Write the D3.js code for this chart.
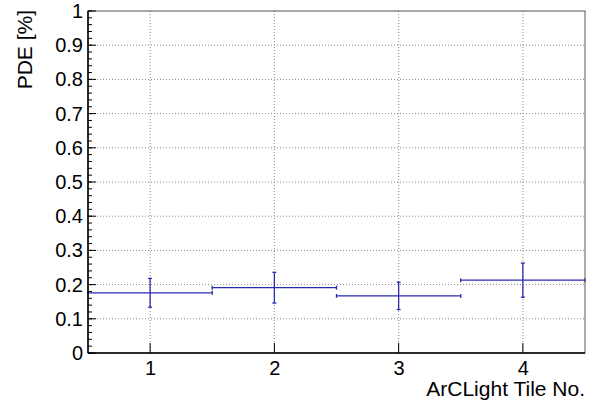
<!DOCTYPE html>
<html>
<head>
<meta charset="utf-8">
<script src="https://cdn.jsdelivr.net/npm/d3@7"></script>
<style>
  body { margin: 0; background: #fff; }
  text { font-family: "Liberation Sans", Arial, sans-serif; fill: #000; }
</style>
</head>
<body>
<div id="chart-area"></div>
<script>
const tiles = [1, 2, 3, 4];
const pde = [0.176, 0.191, 0.167, 0.213];
const pdeErr = [0.042, 0.045, 0.040, 0.050];
const binHalf = 0.5;
const yTicks = d3.range(0, 1.0001, 0.1);
const yMinor = d3.range(0, 1.0001, 0.02);

const margin = {top: 11, right: 16, bottom: 52, left: 88};
const width = 601 - margin.left - margin.right;
const height = 405 - margin.top - margin.bottom;
const blue = "#2b2bb0";

const svg = d3.select("#chart-area").append("svg")
    .attr("width", 601)
    .attr("height", 405);

const g = svg.append("g")
    .attr("transform", "translate(" + margin.left + ", " + margin.top + ")");

const x = d3.scaleLinear().domain([0.5, 4.5]).range([0, width]);
const y = d3.scaleLinear().domain([0, 1]).range([height, 0]);

// grid
g.selectAll(".ygrid").data(yTicks.filter((d) => d > 0 && d < 0.999)).enter().append("line")
    .attr("x1", 0).attr("x2", width)
    .attr("y1", (d) => y(d)).attr("y2", (d) => y(d))
    .attr("stroke", "#8a8a8a").attr("stroke-width", 1)
    .attr("stroke-dasharray", "1,2");

g.selectAll(".xgrid").data(tiles).enter().append("line")
    .attr("x1", (d) => x(d)).attr("x2", (d) => x(d))
    .attr("y1", 0).attr("y2", height)
    .attr("stroke", "#8a8a8a").attr("stroke-width", 1)
    .attr("stroke-dasharray", "1,2");

// data points with errors
const pts = tiles.map((t, i) => ({t: t, v: pde[i], e: pdeErr[i]}));
const pg = g.append("g").attr("stroke", blue).attr("stroke-width", 1.3).attr("fill", "none");
const cap = 2;

pts.forEach((d) => {
  const xl = x(d.t - binHalf), xr = x(d.t + binHalf), xc = x(d.t);
  const yv = y(d.v), yt = y(d.v + d.e), yb = y(d.v - d.e);
  pg.append("line").attr("x1", xl).attr("x2", xr).attr("y1", yv).attr("y2", yv);
  pg.append("line").attr("x1", xc).attr("x2", xc).attr("y1", yt).attr("y2", yb);
  pg.append("line").attr("x1", xl).attr("x2", xl).attr("y1", yv - cap).attr("y2", yv + cap);
  pg.append("line").attr("x1", xr).attr("x2", xr).attr("y1", yv - cap).attr("y2", yv + cap);
  pg.append("line").attr("x1", xc - cap).attr("x2", xc + cap).attr("y1", yt).attr("y2", yt);
  pg.append("line").attr("x1", xc - cap).attr("x2", xc + cap).attr("y1", yb).attr("y2", yb);
});

// frame
g.append("rect")
    .attr("x", 0).attr("y", 0).attr("width", width).attr("height", height)
    .attr("fill", "none").attr("stroke", "#555").attr("stroke-width", 1);

// y axis (ROOT style, ticks inside)
const yAxisCall = d3.axisLeft(y).tickValues(yTicks).tickSize(0).tickPadding(5)
    .tickFormat((d) => d3.format("")(+d.toFixed(1)));
const yAxisGroup = g.append("g").attr("class", "y axis").call(yAxisCall);
yAxisGroup.select(".domain").remove();
yAxisGroup.selectAll("text").attr("font-size", 20);

g.selectAll(".ymaj").data(yTicks).enter().append("line")
    .attr("x1", 0).attr("x2", 8)
    .attr("y1", (d) => y(d)).attr("y2", (d) => y(d))
    .attr("stroke", "#000");
g.selectAll(".ymin").data(yMinor).enter().append("line")
    .attr("x1", 0).attr("x2", 4)
    .attr("y1", (d) => y(d)).attr("y2", (d) => y(d))
    .attr("stroke", "#000");

// x axis
const xAxisCall = d3.axisBottom(x).tickValues(tiles).tickSize(0).tickPadding(8)
    .tickFormat(d3.format("d"));
const xAxisGroup = g.append("g").attr("class", "x axis")
    .attr("transform", "translate(0," + height + ")")
    .call(xAxisCall);
xAxisGroup.select(".domain").remove();
xAxisGroup.selectAll("text").attr("font-size", 20);

g.selectAll(".xmaj").data(tiles).enter().append("line")
    .attr("x1", (d) => x(d)).attr("x2", (d) => x(d))
    .attr("y1", height).attr("y2", height - 10)
    .attr("stroke", "#000");

g.append("line").attr("x1", 0).attr("x2", 0).attr("y1", 0).attr("y2", height)
    .attr("stroke", "#000").attr("stroke-width", 1.5);
g.append("line").attr("x1", 0).attr("x2", width).attr("y1", height).attr("y2", height)
    .attr("stroke", "#000").attr("stroke-width", 1.5);

// axis titles
svg.append("text")
    .attr("x", 585)
    .attr("y", 396)
    .attr("text-anchor", "end")
    .attr("font-size", 21)
    .text("ArCLight Tile No.");

svg.append("text")
    .attr("transform", "translate(32, 10) rotate(-90)")
    .attr("text-anchor", "end")
    .attr("font-size", 21)
    .text("PDE [%]");
</script>
</body>
</html>
